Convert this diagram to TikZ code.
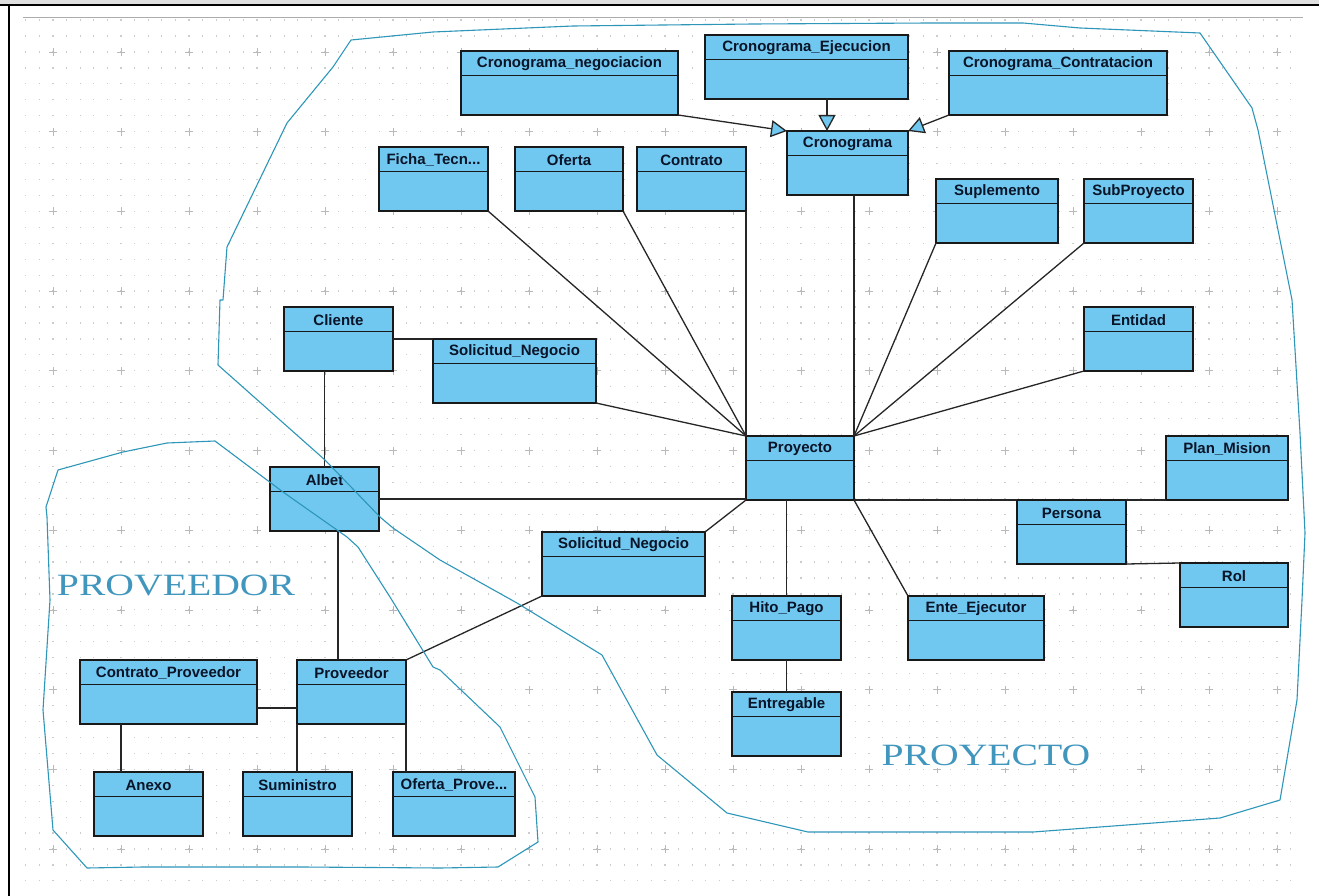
\documentclass[tikz,border=0pt]{standalone}
\usepackage{fontspec}
\setmainfont{Liberation Serif}
\setsansfont{Liberation Sans}
\usetikzlibrary{arrows.meta,calc}
\definecolor{boxblue}{RGB}{112,200,240}
\definecolor{outl}{RGB}{45,150,185}
\definecolor{titlec}{RGB}{10,20,40}
\definecolor{labc}{RGB}{65,150,190}
\newcommand\umlb[5]{%
  \node[uml, minimum width=#4] (#1) at (#2,#3) {};
  \draw[line width=1.3pt, draw=black!90] ([yshift=-24.5pt]#1.north west) -- ([yshift=-24.5pt]#1.north east);
  \node[ttl] (#1-t) at ($(#1.north)+(0,13)$) {#5};
}
\begin{document}
\begin{tikzpicture}[x=1pt,y=-1pt,
  uml/.style={draw=black!90, fill=boxblue, line width=1.3pt, inner sep=0pt, outer sep=0pt, anchor=north west, minimum height=64pt},
  ttl/.style={font=\sffamily\bfseries\fontsize{15}{17}\selectfont, text=titlec, inner sep=0pt, anchor=center},
  conn/.style={line width=1.3pt, draw=black!85},
  gen/.style={conn, -{Triangle[length=16pt, width=17pt, fill=boxblue]}},
  region/.style={draw=outl, line width=1.1pt, line join=round},
  lbl/.style={font=\fontsize{31}{31}\selectfont, text=labc, fill=white, inner sep=3pt, anchor=base},
]
\useasboundingbox (0,0) rectangle (1319,896);
\fill[white] (0,0) rectangle (1319,896);
% frame
\fill[gray!25] (0,0) rectangle (1319,4.5);
\draw[line width=2pt] (0,5.5) -- (1319,5.5);
\draw[line width=2pt] (9,5.5) -- (9,896);
% grid
\foreach \r in {0,...,54} {
  \draw[gray!40, line width=1.2pt, dash pattern=on 1.2pt off 12.4pt] (25.2,{20.1+15.94*\r}) -- (1303,{20.1+15.94*\r});
}
\draw[gray!65, line width=0.9pt] (23,17) -- (1303,17);
\foreach \i in {0,...,18} {
  \foreach \j in {0,...,10} {
    \draw[gray!55, line width=0.8pt] ({53+68*\i-4},{52+79.7*\j}) -- ({53+68*\i+4},{52+79.7*\j})
      ({53+68*\i},{52+79.7*\j-4}) -- ({53+68*\i},{52+79.7*\j+4});
  }
}
% labels
\node[lbl] (provlbl) at (176,595) {\scalebox{1.28}[1]{PROVEEDOR}};
\node[lbl] (proylbl) at (986,765) {\scalebox{1.28}[1]{PROYECTO}};
% boxes
\umlb{crn}{461}{51}{217}{Cronograma\_negociacion}
\umlb{cre}{705}{35}{203}{Cronograma\_Ejecucion}
\umlb{crc}{949}{51}{218}{Cronograma\_Contratacion}
\umlb{cro}{787}{131}{121}{Cronograma}
\umlb{fic}{379}{147}{109}{Ficha\_Tecn...}
\umlb{ofe}{515}{147}{108}{Oferta}
\umlb{con}{637}{147}{109}{Contrato}
\umlb{sup}{936}{179}{122}{Suplemento}
\umlb{sub}{1084}{179}{109}{SubProyecto}
\umlb{cli}{284}{307}{109}{Cliente}
\umlb{sna}{433}{339}{163}{Solicitud\_Negocio}
\umlb{ent}{1084}{307}{109}{Entidad}
\umlb{pro}{746}{436}{108}{Proyecto}
\umlb{alb}{270}{467}{109}{Albet}
\umlb{pla}{1166}{436}{122}{Plan\_Mision}
\umlb{per}{1017}{500}{109}{Persona}
\umlb{rol}{1180}{563}{108}{Rol}
\umlb{snb}{542}{532}{163}{Solicitud\_Negocio}
\umlb{hit}{732}{596}{109}{Hito\_Pago}
\umlb{eje}{908}{596}{136}{Ente\_Ejecutor}
\umlb{etr}{732}{692}{109}{Entregable}
\umlb{cpr}{80}{660}{177}{Contrato\_Proveedor}
\umlb{prv}{297}{660}{109}{Proveedor}
\umlb{anx}{94}{772}{109}{Anexo}
\umlb{smi}{243}{772}{109}{Suministro}
\umlb{ofp}{393}{772}{122}{Oferta\_Prove...}
% connectors
\draw[gen] (crn.south east) -- (cro.north west);
\draw[gen] ([xshift=20.5pt]cre.south) -- ([xshift=20.5pt]cre.south |- cro.north);
\draw[gen] (crc.south west) -- (cro.north east);
\draw[conn] (fic.south east) -- (pro.north west);
\draw[conn] (ofe.south east) -- (pro.north west);
\draw[conn] (con.south east) -- (pro.north west);
\draw[conn] (cro.south -| pro.north east) -- (pro.north east);
\draw[conn] (sup.south west) -- (pro.north east);
\draw[conn] (sub.south west) -- (pro.north east);
\draw[conn] (ent.south west) -- (pro.north east);
\draw[conn] (sna.south east) -- (pro.north west);
\draw[conn] (cli.east) -- (sna.north west);
\draw[conn] (alb.north) -- (alb.north |- cli.south);
\draw[conn] (alb.east) -- (alb.east -| pro.south west);
\draw[conn] (pro.south east) -- (per.north west);
\draw[conn] (per.north east) -- (pla.south west);
\draw[conn] (per.south east) -- (rol.north west);
\draw[conn] (pro.south east) -- (eje.north west);
\draw[conn] (hit.north) -- (hit.north |- pro.south);
\draw[conn] (hit.south) -- (etr.north);
\draw[conn] (pro.south west) -- (snb.north east);
\draw[conn] (snb.south west) -- (prv.north east);
\draw[conn] ([xshift=13.5pt]alb.south) -- ([xshift=13.5pt]alb.south |- prv.north);
\coordinate (cprr) at ($(cpr.north east)!0.75!(cpr.south east)$);
\draw[conn] (cprr) -- (cprr -| prv.west);
\draw[conn] ([xshift=-27.5pt]anx.north |- cpr.south) -- ([xshift=-27.5pt]anx.north);
\draw[conn] (prv.south west) -- (prv.south west |- smi.north);
\draw[conn] (prv.south east) -- (prv.south east |- ofp.north);
% regions
\draw[region] (351,40) -- (433,32) -- (573,26) -- (753,24) -- (930,23) -- (1023,23) -- (1080,28) -- (1200,33)
  -- (1252,108) -- (1258,130) -- (1292,300) -- (1300,433) -- (1305,533) -- (1302,600) -- (1297,700)
  -- (1280,800) -- (1220,818) -- (1033,832) -- (880,832) -- (808,832) -- (727,813) -- (657,755)
  -- (602,655) -- (517,603) -- (440,560) -- (393,528) -- (380,517) -- (325,460) -- (218,365)
  -- (220,300) -- (223,300) -- (227,247) -- (287,123) -- (333,67) -- cycle;
\draw[region] (215,441) -- (167,443) -- (123,452) -- (58,470) -- (46,507) -- (47,517) -- (50,600)
  -- (43,710) -- (53,830) -- (87,868) -- (143,867) -- (303,867) -- (440,868) -- (498,867)
  -- (538,842) -- (535,797) -- (500,727) -- (440,670) -- (433,667) -- (390,597) -- (358,547)
  -- (347,537) -- (283,492) -- cycle;
\end{tikzpicture}
\end{document}
